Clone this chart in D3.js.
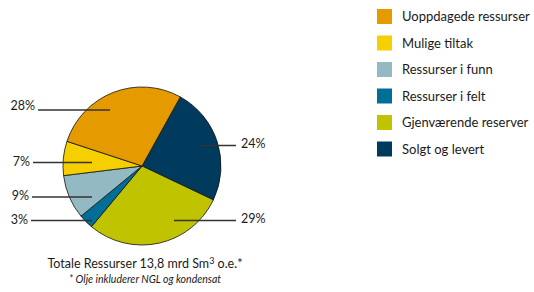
<!DOCTYPE html>
<html lang="no">
  <head>
    <meta charset="UTF-8" />
    <title>Totale ressurser</title>
    <script src="https://d3js.org/d3.v7.min.js"></script>
    <style>
      body {
        margin: 0;
        background: #fff;
      }
      text {
        font-family: Lato, "Noto Sans", sans-serif;
        fill: #1a1a1a;
      }
    </style>
  </head>
  <body>
    <svg width="534" height="292"></svg>

    <script>
      // legend order (top to bottom)
      var categories = [
        "Uoppdagede ressurser",
        "Mulige tiltak",
        "Ressurser i funn",
        "Ressurser i felt",
        "Gjenværende reserver",
        "Solgt og levert",
      ];
      var shares = [28, 7, 9, 3, 29, 24];
      var colors = ["#e59a00", "#f5cf00", "#93b9c3", "#006e96", "#bfc300", "#003a5d"];

      // pie order, clockwise from the top-right boundary
      var pieOrder = [5, 4, 3, 2, 1, 0];

      // label lines, relative to the pie centre (same order as categories)
      var labelLayout = [
        { dy: -56, xIn: -32, xOut: -104, tdy: -0.5 },
        { dy: -3.5, xIn: -50, xOut: -109, tdy: 3 },
        { dy: 31, xIn: -50, xOut: -110, tdy: 3 },
        { dy: 54.5, xIn: -50, xOut: -111, tdy: 3 },
        { dy: 54.5, xIn: 32, xOut: 94, tdy: 2.5 },
        { dy: -20.5, xIn: 58.5, xOut: 94, tdy: 2.5 },
      ];

      var svg = d3.select("svg");
      var cx = 142,
        cy = 166,
        r = 79;

      var startAngle = (29 * Math.PI) / 180;
      var pie = d3
        .pie()
        .sort(null)
        .value(function (i) {
          return shares[i];
        })
        .startAngle(startAngle)
        .endAngle(startAngle + 2 * Math.PI);

      var arc = d3.arc().innerRadius(0).outerRadius(r);

      var g = svg.append("g").attr("transform", "translate(" + cx + "," + cy + ")");

      g.selectAll("path")
        .data(pie(pieOrder))
        .enter()
        .append("path")
        .attr("d", arc)
        .attr("fill", function (d) {
          return colors[d.data];
        })
        .attr("stroke", "#111")
        .attr("stroke-width", 0.8)
        .attr("stroke-linejoin", "round");

      // label lines + percentages
      var lbl = g.selectAll(".lbl").data(labelLayout).enter().append("g").attr("class", "lbl");

      lbl
        .append("line")
        .attr("x1", function (d) {
          return d.xIn;
        })
        .attr("x2", function (d) {
          return d.xOut;
        })
        .attr("y1", function (d) {
          return d.dy;
        })
        .attr("y2", function (d) {
          return d.dy;
        })
        .attr("stroke", "#333")
        .attr("stroke-width", 1.3);

      lbl
        .append("text")
        .attr("x", function (d) {
          return d.xOut < 0 ? d.xOut - 3 : d.xOut + 5;
        })
        .attr("y", function (d) {
          return d.dy + d.tdy;
        })
        .attr("text-anchor", function (d) {
          return d.xOut < 0 ? "end" : "start";
        })
        .style("font-size", "12.5px")
        .text(function (d, i) {
          return shares[i] + "%";
        });

      // title + footnote
      var title = svg
        .append("text")
        .attr("x", 145)
        .attr("y", 268)
        .attr("text-anchor", "middle")
        .style("font-size", "12.5px");
      title.append("tspan").text("Totale Ressurser 13,8 mrd Sm");
      title.append("tspan").attr("dy", -4).style("font-size", "9px").text("3");
      title.append("tspan").attr("dy", 4).text(" o.e.*");

      svg
        .append("text")
        .attr("x", 145)
        .attr("y", 283)
        .attr("text-anchor", "middle")
        .style("font-size", "10.5px")
        .style("font-style", "italic")
        .text("* Olje inkluderer NGL og kondensat");

      // legend
      var y = d3.scaleBand().domain(d3.range(categories.length)).range([9, 168]).paddingInner(0);

      var leg = svg
        .selectAll(".leg")
        .data(categories)
        .enter()
        .append("g")
        .attr("class", "leg")
        .attr("transform", function (d, i) {
          return "translate(377," + y(i) + ")";
        });

      leg
        .append("rect")
        .attr("width", 15)
        .attr("height", 15)
        .attr("fill", function (d, i) {
          return colors[i];
        });

      leg
        .append("text")
        .attr("x", 25)
        .attr("y", 7.5)
        .attr("dy", "0.35em")
        .style("font-size", "13px")
        .text(function (d) {
          return d;
        });
    </script>
  </body>
</html>
